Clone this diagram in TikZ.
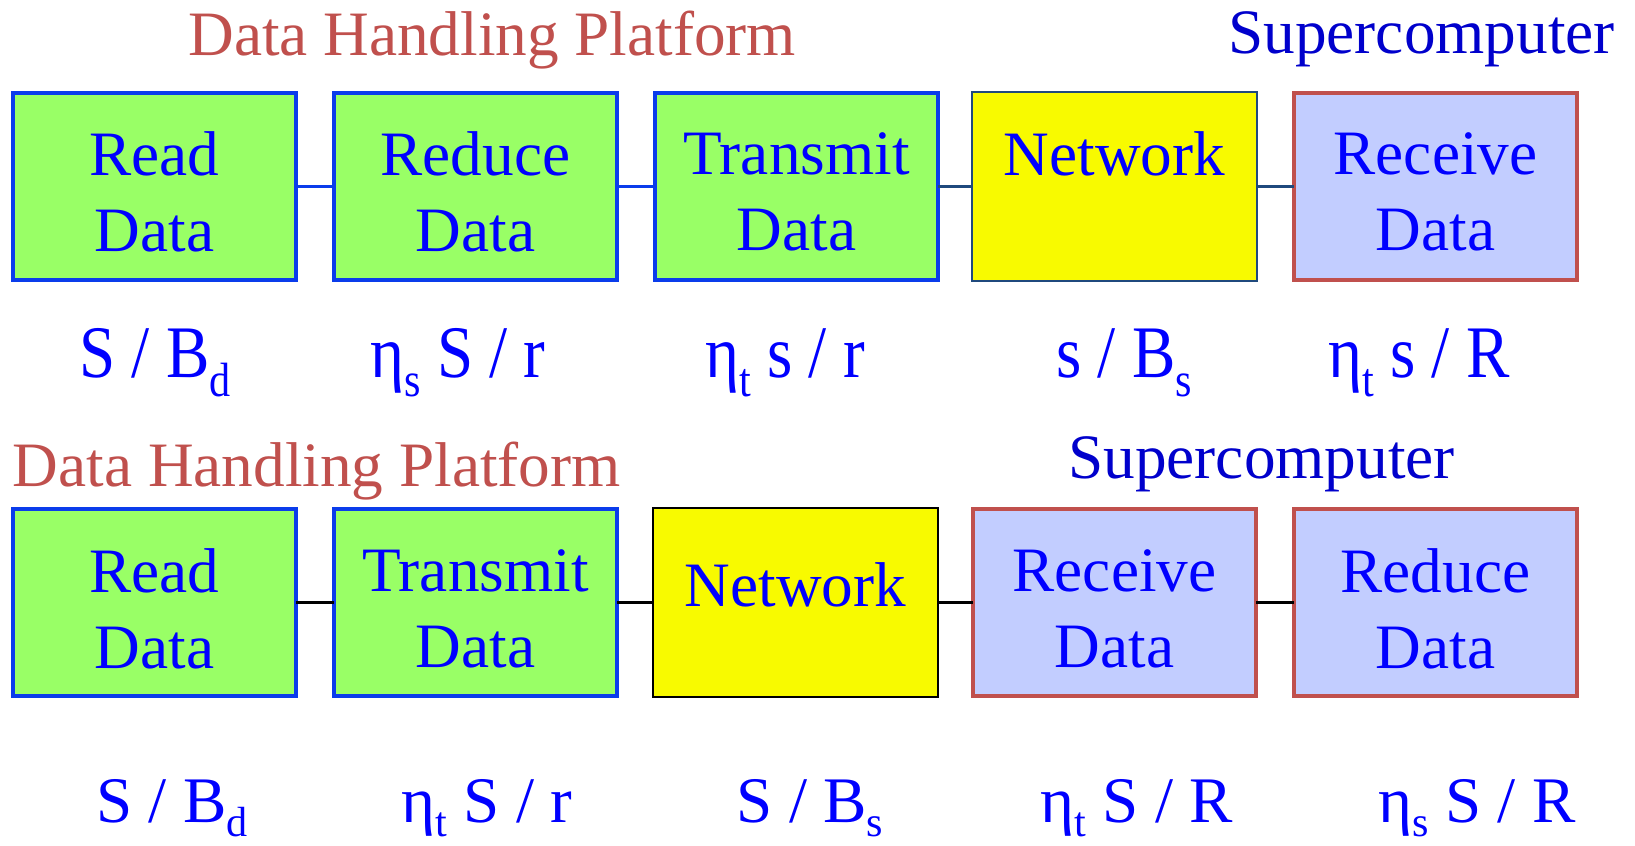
\documentclass[tikz,border=0pt]{standalone}
\usepackage{fontspec}
\setmainfont{Liberation Serif}
\usepackage{graphicx}
\definecolor{boxgreen}{RGB}{153,255,102}
\definecolor{bblue}{RGB}{10,60,235}
\definecolor{tblue}{RGB}{0,0,255}
\definecolor{sblue}{RGB}{0,0,204}
\definecolor{tred}{RGB}{192,80,77}
\definecolor{lav}{RGB}{194,205,255}
\definecolor{netyellow}{RGB}{248,250,0}
\definecolor{dkblue}{RGB}{31,73,125}
\newcommand{\lsub}[1]{\raisebox{-9.5pt}{\fontsize{24}{26}\selectfont #1}}
\newcommand{\lsubb}[1]{\raisebox{-8.3pt}{\fontsize{24}{26}\selectfont #1}}
\tikzset{
  greenbox/.style={draw=bblue, fill=boxgreen, line width=2.27pt, minimum width=5.66cm, minimum height=3.74cm, inner sep=0pt, outer sep=0pt},
  lavbox/.style={draw=tred, fill=lav, line width=2.27pt, minimum width=5.66cm, minimum height=3.74cm, inner sep=0pt, outer sep=0pt},
  netbox/.style={fill=netyellow, line width=1.13pt, minimum width=5.70cm, minimum height=3.78cm, inner sep=0pt, outer sep=0pt},
  boxtext/.style={text=tblue, align=center, font=\fontsize{36}{43.65}\selectfont, inner sep=0pt},
  lbl/.style={text=tblue, anchor=base, font=\fontsize{37}{44}\selectfont, inner sep=0pt},
  ttl/.style={text=tred, anchor=base west, font=\fontsize{36}{43}\selectfont, inner sep=0pt},
  sup/.style={text=sblue, anchor=base west, font=\fontsize{36}{43}\selectfont, inner sep=0pt},
  conblue/.style={draw=bblue, line width=1.42pt},
  condark/.style={draw=dkblue, line width=1.42pt},
  conblack/.style={draw=black, line width=1.7pt}
}
\begin{document}
\begin{tikzpicture}[x=0.02cm,y=-0.02cm]
\useasboundingbox (0,0) rectangle (1635,845);
% titles
\node[ttl] (title1) at (188,55) {Data Handling Platform};
\node[sup] (super1) at (1228,53) {Supercomputer};
\node[ttl] (title2) at (12.5,486) {Data Handling Platform};
\node[sup] (super2) at (1068,478) {Supercomputer};
% top row boxes
\node[greenbox] (a1) at (154.5,186.5) {};
\node[greenbox] (a2) at (475.5,186.5) {};
\node[greenbox] (a3) at (796.5,186.5) {};
\node[netbox, draw=dkblue] (a4) at (1114.5,186.5) {};
\node[lavbox] (a5) at (1435.5,186.5) {};
\node[boxtext] (ta1) at (154.5,191.8) {Read\\Data};
\node[boxtext] (ta2) at (475.5,191.8) {Reduce\\Data};
\node[boxtext] (ta3) at (796.5,191.8) {Transmit\\Data};
\node[boxtext] (ta4) at (1114.5,191.8) {Network\\\phantom{Data}};
\node[boxtext] (ta5) at (1435.5,191.8) {Receive\\Data};
\draw[conblue] (a1.east) -- (a2.west);
\draw[conblue] (a2.east) -- (a3.west);
\draw[condark] (a3.east) -- (a4.west);
\draw[condark] (a4.east) -- (a5.west);
% bottom row boxes
\node[greenbox] (b1) at (154.5,602.5) {};
\node[greenbox] (b2) at (475.5,602.5) {};
\node[netbox, draw=black] (b3) at (795.5,602.5) {};
\node[lavbox] (b4) at (1114.5,602.5) {};
\node[lavbox] (b5) at (1435.5,602.5) {};
\node[boxtext] (tb1) at (154.5,608.8) {Read\\Data};
\node[boxtext] (tb2) at (475.5,608.8) {Transmit\\Data};
\node[boxtext] (tb3) at (795.5,585.3) {Network};
\node[boxtext] (tb4) at (1114.5,608.8) {Receive\\Data};
\node[boxtext] (tb5) at (1435.5,608.8) {Reduce\\Data};
\draw[conblack] (b1.east) -- (b2.west);
\draw[conblack] (b2.east) -- (b3.west);
\draw[conblack] (b3.east) -- (b4.west);
\draw[conblack] (b4.east) -- (b5.west);
% labels row 1
\node[lbl] (la1) at (155,377) {\scalebox{1}[1.14]{S / B\lsub{d}}};
\node[lbl] (la2) at (458,377) {\scalebox{1}[1.14]{η\lsub{s} S / r}};
\node[lbl] (la3) at (785,377) {\scalebox{1}[1.14]{η\lsub{t} s / r}};
\node[lbl] (la4) at (1124,377) {\scalebox{1}[1.14]{s / B\lsub{s}}};
\node[lbl] (la5) at (1419,377) {\scalebox{1}[1.14]{η\lsub{t} s / R}};
% labels row 2
\node[lbl] (lb1) at (172,822) {S / B\lsubb{d}};
\node[lbl] (lb2) at (487,822) {η\lsubb{t} S / r};
\node[lbl] (lb3) at (810,822) {S / B\lsubb{s}};
\node[lbl] (lb4) at (1137,822) {η\lsubb{t} S / R};
\node[lbl] (lb5) at (1477,822) {η\lsubb{s} S / R};
\end{tikzpicture}
\end{document}
